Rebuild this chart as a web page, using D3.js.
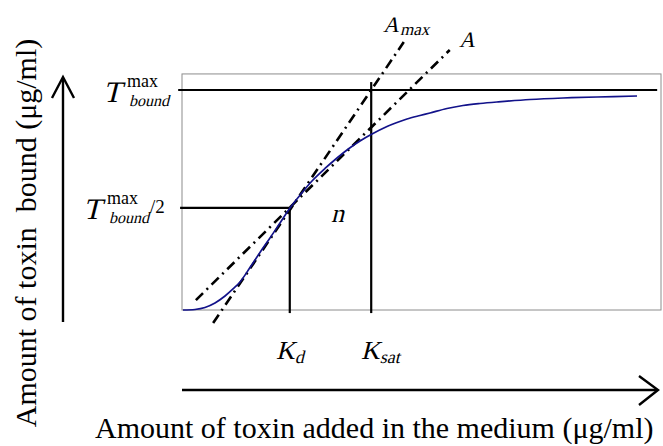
<!DOCTYPE html>
<html>
<head>
<meta charset="utf-8">
<script src="https://cdn.jsdelivr.net/npm/d3@7"></script>
<style>
  html, body { margin: 0; padding: 0; background: #fff; }
  svg { display: block; }
  text { font-family: "Liberation Serif", "Times New Roman", "DejaVu Serif", serif; fill: #000; }
</style>
</head>
<body>
<svg id="chart" width="663" height="446"></svg>
<script>
// ---- data ----
const curveX = [0.21, 2.71, 4.80, 6.89, 8.98, 10.65, 12.11, 14.20, 16.28, 18.37, 20.46, 22.55, 24.84, 27.14, 29.85, 32.36, 34.86, 37.16, 39.67, 42.80, 44.89, 46.97, 49.69, 51.77, 55.32, 58.66, 62.21, 65.76, 72.65, 79.54, 86.64, 94.99];
const curveY = [0, 0.23, 1.14, 3.18, 6.36, 9.55, 12.73, 19.32, 26.14, 32.73, 39.55, 46.36, 52.73, 58.64, 64.32, 69.09, 73.41, 76.82, 80.0, 83.41, 85.23, 86.82, 88.41, 89.55, 91.59, 92.95, 93.86, 94.55, 95.68, 96.36, 96.82, 97.27];
const lineAX = [2.9, 55.9];
const lineAY = [4.5, 118.2];
const lineAmaxX = [6.5, 46.3];
const lineAmaxY = [-5.9, 121.8];
const Tmax = 100;
const halfT = 46.4;
const Kd = 22.5;
const Ksat = 39.5;
const xDomain = [0, 100];
const yDomain = [0, 107.3];

// ---- scales ----
const x = d3.scaleLinear().domain([0, 100]).range([182, 661]);
const y = d3.scaleLinear().domain([0, 100]).range([310, 90]);

const svg = d3.select("#chart");
svg.append("rect").attr("width", 663).attr("height", 446).attr("fill", "#fff");

// plot frame
svg.append("rect")
  .attr("x", x(xDomain[0])).attr("y", y(yDomain[1]))
  .attr("width", x(xDomain[1]) - x(xDomain[0]))
  .attr("height", y(yDomain[0]) - y(yDomain[1]))
  .attr("fill", "none").attr("stroke", "#8c8c8c").attr("stroke-width", 1);

// reference lines
const black = (x1, y1, x2, y2) => svg.append("line")
  .attr("x1", x1).attr("y1", y1).attr("x2", x2).attr("y2", y2)
  .attr("stroke", "#000").attr("stroke-width", 2.2);

black(x(-0.8), y(Tmax), x(99.2), y(Tmax));
black(x(-0.4), y(halfT), x(Kd), y(halfT));
black(x(Kd), y(halfT), x(Kd), y(-1.4));
black(x(Ksat), y(103.6), x(Ksat), y(-1.4));

// tangent lines (dash-dot)
const lineGen = d3.line().x(d => x(d[0])).y(d => y(d[1]));
[[lineAX, lineAY], [lineAmaxX, lineAmaxY]].forEach(([lx, ly]) => {
  svg.append("path")
    .attr("d", lineGen(lx.map((v, i) => [v, ly[i]])))
    .attr("fill", "none").attr("stroke", "#000")
    .attr("stroke-width", 2.6)
    .attr("stroke-dasharray", "10,5,2,5");
});

// binding curve
svg.append("path")
  .attr("d", d3.line().x(d => x(d[0])).y(d => y(d[1])).curve(d3.curveCatmullRom.alpha(0.5))(curveX.map((v, i) => [v, curveY[i]])))
  .attr("fill", "none").attr("stroke", "#12128a").attr("stroke-width", 1.7);

// axis arrows
const arrow = svg.append("g").attr("stroke", "#000").attr("stroke-width", 2.4).attr("fill", "none");
arrow.append("line").attr("x1", 63).attr("y1", 322).attr("x2", 63).attr("y2", 78);
arrow.append("path").attr("d", "M52,98 L63,77 L74,98");
arrow.append("line").attr("x1", 182).attr("y1", 390).attr("x2", 657).attr("y2", 390);
arrow.append("path").attr("d", "M639,376 L658,390 L639,405");

// axis titles
svg.append("text")
  .attr("transform", "translate(36,233) rotate(-90)")
  .attr("text-anchor", "middle")
  .attr("font-size", 30)
  .attr("xml:space", "preserve")
  .text("Amount of toxin  bound (μg/ml)");
svg.append("text")
  .attr("x", 95).attr("y", 438)
  .attr("font-size", 30)
  .text("Amount of toxin added in the medium (μg/ml)");

// italic via slanted serif face
const SLANT = -14;
function itext(tx, ty, size, str) {
  return svg.append("text")
    .attr("transform", `translate(${tx},${ty}) skewX(${SLANT})`)
    .attr("font-size", size).text(str);
}

// T labels
function tLabel(tx, ty, extra) {
  itext(tx, ty, 30, "T");
  svg.append("text").attr("x", tx + 24).attr("y", ty - 15).attr("font-size", 18).text("max");
  itext(tx + 26, ty + 4, 16, "bound");
  if (extra) svg.append("text").attr("x", tx + 67).attr("y", ty - 6).attr("font-size", 19).text(extra);
}
tLabel(103, 102, null);
tLabel(83, 219, "/2");

// subscripted labels
function subLabel(tx, ty, main, sub, fs, sfs, dx, dy) {
  const t = svg.append("text")
    .attr("transform", `translate(${tx},${ty}) skewX(${SLANT})`);
  t.append("tspan").attr("font-size", fs).text(main);
  t.append("tspan").attr("font-size", sfs).attr("dx", dx).attr("dy", dy).text(sub);
}
subLabel(276, 359, "K", "d", 26, 18, 1, 4);
subLabel(361, 359, "K", "sat", 26, 18, 1, 4);
subLabel(383, 32, "A", "max", 22, 17, 2, 3);
itext(459, 47, 22, "A");
itext(331, 222, 26, "n");
</script>
</body>
</html>
